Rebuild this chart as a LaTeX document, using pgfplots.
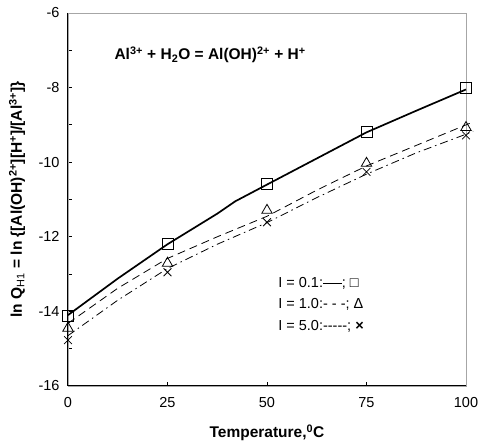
\documentclass[border=0pt]{standalone}
\usepackage{pgfplots}
\pgfplotsset{compat=1.18}
\usepackage{fontspec}
\setmainfont{Liberation Sans}
\begin{document}
\begin{tikzpicture}
\useasboundingbox (-68pt,-56pt) rectangle (412pt,386pt);
\begin{axis}[
  at={(0,0)}, anchor=south west,
  scale only axis, width=398pt, height=373pt,
  xmin=0, xmax=100, ymin=-16, ymax=-6,
  xtick={0,25,50,75,100},
  ytick={-16,-15,...,-6},
  yticklabels={-16,,-14,,-12,,-10,,-8,,-6},
  tick align=inside, tick pos=left,
  major tick length=4pt,
  tick style={black, line width=0.8pt},
  axis line style={gray!70, line width=0.8pt},
  /pgf/number format/assume math mode=true,
  ticklabel style={font=\fontsize{14.5}{16}\selectfont},
  xticklabel style={yshift=-8pt},
  yticklabel style={xshift=-5pt},
  xlabel={\textbf{Temperature,\textsuperscript{0}C}},
  ylabel={\textbf{ln Q\textsubscript{\mdseries H1} = ln \{[Al(OH)\textsuperscript{2+}][H\textsuperscript{+}]/[Al\textsuperscript{3+}]\}}},
  label style={font=\fontsize{15.5}{17}\selectfont},
  xlabel style={at={(axis description cs:0.5,-0.126)}, anchor=center},
  ylabel style={at={(axis description cs:-0.128,0.5)}, anchor=center},
  clip=false,
]
\draw[black, line width=1pt] (rel axis cs:0,1) -- (rel axis cs:0,0) -- (rel axis cs:1,0);
% model lines
\addplot[black, line width=1.7pt, mark=none] coordinates {
 (0,-14.1) (12.5,-13.12) (25,-12.2) (37.5,-11.38) (42,-11.05) (50,-10.6) (62.5,-9.9) (75,-9.2) (87.5,-8.62) (100,-8.05)};
\addplot[black, line width=0.8pt, dash pattern=on 8pt off 5pt, mark=none] coordinates {
 (0,-14.32) (12.5,-13.38) (25,-12.58) (37.5,-12.0) (50,-11.45) (62.5,-10.75) (75,-10.1) (87.5,-9.55) (100,-9.0) (101.8,-8.92)};
\addplot[black, line width=0.8pt, dash pattern=on 8pt off 4pt on 1.5pt off 4pt, mark=none] coordinates {
 (0,-14.65) (12.5,-13.7) (25,-12.85) (37.5,-12.2) (50,-11.62) (62.5,-10.95) (75,-10.32) (87.5,-9.75) (100,-9.25) (101.8,-9.17)};
% markers
\addplot[only marks, mark=square, mark size=5.5pt, mark options={fill=white, line width=0.8pt}] coordinates {
 (0,-14.13) (25,-12.18) (50,-10.57) (75,-9.19) (100,-8.01)};
\addplot[only marks, mark=triangle, mark size=6pt, mark options={line width=0.8pt}] coordinates {
 (0,-14.45) (25,-12.71) (50,-11.29) (75,-10.03) (100,-9.07)};
\addplot[only marks, mark=x, mark size=5.5pt, mark options={line width=0.8pt}] coordinates {
 (0,-14.77) (25,-12.95) (50,-11.61) (75,-10.26) (100,-9.28)};
% annotations
\node[anchor=center, font=\fontsize{15.5}{17}\selectfont\bfseries] at (axis cs:35.7,-7.13)
 {Al\textsuperscript{3+} + H\textsubscript{2}O = Al(OH)\textsuperscript{2+} + H\textsuperscript{+}};
\node[anchor=west, inner sep=0pt, font=\fontsize{14.5}{16}\selectfont] at (axis cs:52.8,-13.25) {I = 0.1:\rule[0.3em]{1.3em}{0.7pt}; □};
\node[anchor=west, inner sep=0pt, font=\fontsize{14.5}{16}\selectfont] at (axis cs:52.8,-13.82) {I = 1.0:- - -; Δ};
\node[anchor=west, inner sep=0pt, font=\fontsize{14.5}{16}\selectfont] at (axis cs:52.8,-14.4) {I = 5.0:-{}-{}-{}-{}-; \textbf{×}};
\end{axis}
\end{tikzpicture}
\end{document}
